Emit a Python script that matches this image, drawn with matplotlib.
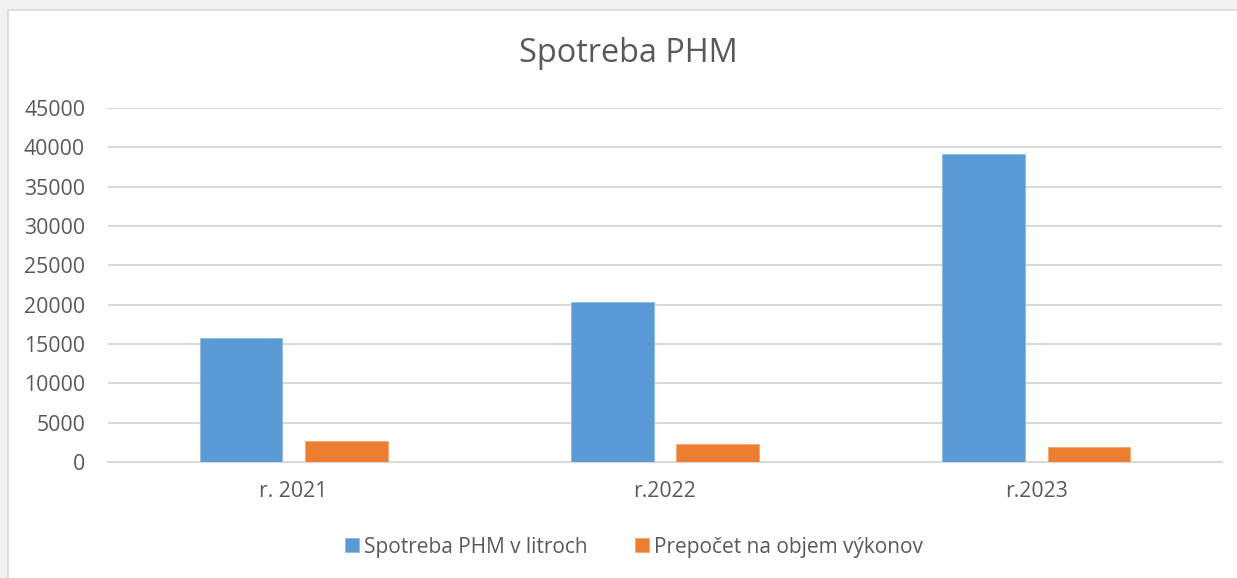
import matplotlib
matplotlib.use("Agg")
import matplotlib.pyplot as plt
import numpy as np
from matplotlib.patches import Rectangle

categories = ["r. 2021", "r.2022", "r.2023"]
spotreba = [15700, 20350, 39100]
prepocet = [2720, 2240, 1910]
series_names = ["Spotreba PHM v litroch", "Prepočet na objem výkonov"]
yticks = list(range(0, 45001, 5000))

plt.rcParams['font.family'] = ['Open Sans', 'DejaVu Sans']
txt = '#595959'

W, H = 1237, 578
fig = plt.figure(figsize=(W/100, H/100), dpi=100, facecolor='#f2f2f2')
bg = Rectangle((8/W, -0.1), 1.2, 1.1 - 10/H, transform=fig.transFigure,
               facecolor='white', edgecolor='#d9d9d9', linewidth=1.2, zorder=-10)
fig.add_artist(bg)

ax = fig.add_axes([108/W, 1 - 462/H, (1222-108)/W, (462-108)/H], zorder=1)
ax.set_facecolor('none')
x = np.arange(len(categories))
bw = 0.223
off = 0.142
ax.bar(x - off, spotreba, bw, color='#5B9BD5', edgecolor='#8cb9e3', linewidth=0.6, label=series_names[0], zorder=3)
ax.bar(x + off, prepocet, bw, color='#ED7D31', edgecolor='#f4a877', linewidth=0.6, label=series_names[1], zorder=3)

ax.set_xlim(-0.5, 2.5)
ax.set_ylim(0, 45000)
ax.set_yticks(yticks)
ax.set_yticklabels([str(v) for v in yticks])
ax.set_xticks(x)
ax.set_xticklabels(categories)
ax.grid(axis='y', color='#d9d9d9', linewidth=1.5, zorder=0)
for s in ['top', 'right', 'left']:
    ax.spines[s].set_visible(False)
ax.spines['bottom'].set_color('#d9d9d9')
ax.spines['bottom'].set_linewidth(1.5)
ax.tick_params(axis='both', length=0, colors=txt, labelsize=15.3)
ax.tick_params(axis='y', pad=16.5)
ax.tick_params(axis='x', pad=14)

fig.text(628/W, 1 - 53/H, "Spotreba PHM", ha='center', va='center', fontsize=23.4, color=txt)

leg = fig.legend(loc='center', bbox_to_anchor=(634/W, 1 - 547/H), ncol=2, frameon=False,
                 fontsize=15, handlelength=0.68, handleheight=0.68, handletextpad=0.25,
                 columnspacing=2.25, labelcolor=txt)

fig.savefig("out.png", dpi=100, facecolor=fig.get_facecolor())
